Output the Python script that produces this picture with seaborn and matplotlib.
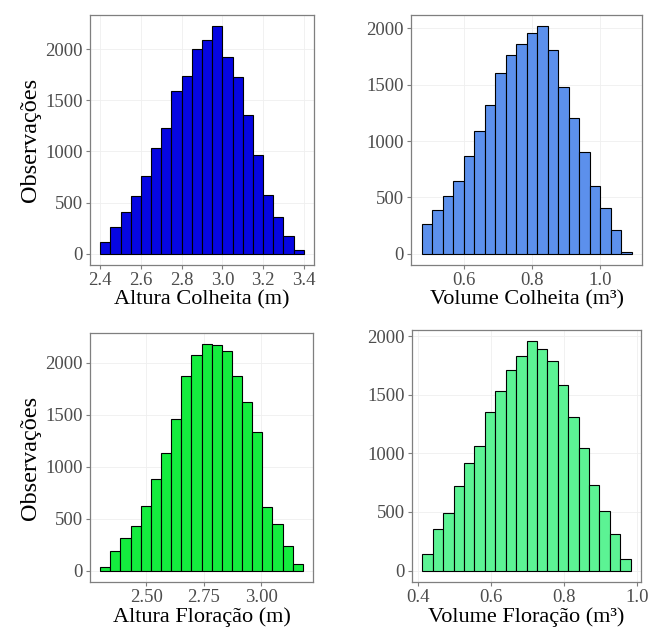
import numpy as np
import pandas as pd
import matplotlib
matplotlib.use("Agg")
import matplotlib.pyplot as plt
import seaborn as sns

# ---- data ----
# Altura Colheita (m)
ac_start, ac_width = 2.40, 0.05
ac_counts = [115, 257, 405, 560, 764, 1035, 1226, 1595, 1743, 2000,
             2092, 2224, 1924, 1727, 1354, 969, 577, 362, 171, 40]
# Volume Colheita (m3)
vc_start, vc_width = 0.476, 0.03075
vc_counts = [259, 390, 516, 644, 870, 1091, 1317, 1607, 1765, 1860,
             1961, 2018, 1809, 1484, 1207, 900, 599, 402, 212, 15]
# Altura Floracao (m)
af_start, af_width = 2.299, 0.0441
af_counts = [39, 194, 317, 430, 621, 883, 1133, 1456, 1877, 2074,
             2178, 2168, 2110, 1871, 1625, 1337, 615, 453, 233, 65]
# Volume Floracao (m3)
vf_start, vf_width = 0.4125, 0.0285
vf_counts = [145, 353, 492, 721, 917, 1065, 1354, 1528, 1713, 1829,
             1954, 1887, 1789, 1580, 1308, 1048, 732, 512, 313, 101]

xlabels = ["Altura Colheita (m)", "Volume Colheita (m³)",
           "Altura Floração (m)", "Volume Floração (m³)"]
xticks = [[2.4, 2.6, 2.8, 3.0, 3.2, 3.4], [0.6, 0.8, 1.0],
          [2.50, 2.75, 3.00], [0.4, 0.6, 0.8, 1.0]]
xtick_fmt = ["{:.1f}", "{:.1f}", "{:.2f}", "{:.1f}"]
yticks = [0, 500, 1000, 1500, 2000]
colors = ["#0606E2", "#5C90EC", "#14EC3E", "#5CF394"]
ylabel = "Observações"

panels = [(ac_start, ac_width, ac_counts), (vc_start, vc_width, vc_counts),
          (af_start, af_width, af_counts), (vf_start, vf_width, vf_counts)]

sns.set_theme(style="white")
plt.rcParams['font.family'] = ['Liberation Serif', 'DejaVu Serif']

fig = plt.figure(figsize=(6.52, 6.35), dpi=100)
W, H = 652, 635
rects = [(90, 15, 314, 265), (411, 15, 642, 265),
         (90, 333, 313, 582), (412, 330, 641, 582)]

for i, ((start, width, counts), r) in enumerate(zip(panels, rects)):
    x0, y0, x1, y1 = r
    ax = fig.add_axes([x0 / W, 1 - y1 / H, (x1 - x0) / W, (y1 - y0) / H])
    n = len(counts)
    lo = start
    hi = start + width * n
    centers = start + width * (np.arange(n) + 0.5)
    df = pd.DataFrame({"x": centers, "w": np.asarray(counts, dtype=float)})
    sns.histplot(data=df, x="x", weights="w", bins=n, binrange=(lo, hi),
                 ax=ax, color=colors[i], alpha=1, edgecolor="black",
                 linewidth=0.8)
    pad = 0.05 * (hi - lo)
    ax.set_xlim(lo - pad, hi + pad)
    m = max(counts)
    ax.set_ylim(-0.05 * m, 1.05 * m)
    ax.set_xticks(xticks[i])
    ax.set_xticklabels([xtick_fmt[i].format(v) for v in xticks[i]])
    ax.set_yticks(yticks)
    ax.set_yticklabels([str(v) for v in yticks])
    ax.grid(True, color="#EFEFEF", linewidth=0.6)
    ax.set_axisbelow(True)
    for s in ax.spines.values():
        s.set_color("#7F7F7F")
        s.set_linewidth(0.9)
    ax.tick_params(axis="both", which="both", length=3, width=0.8,
                   color="#7F7F7F", labelsize=13.5, labelcolor="#4D4D4D",
                   bottom=True, left=True, pad=2)
    ax.set_xlabel(xlabels[i], fontsize=16, color="black", labelpad=1)
    if i % 2 == 0:
        ax.set_ylabel(ylabel, fontsize=17.5, color="black", labelpad=3)
    else:
        ax.set_ylabel("")

fig.savefig("out.png", dpi=100, facecolor="white")
